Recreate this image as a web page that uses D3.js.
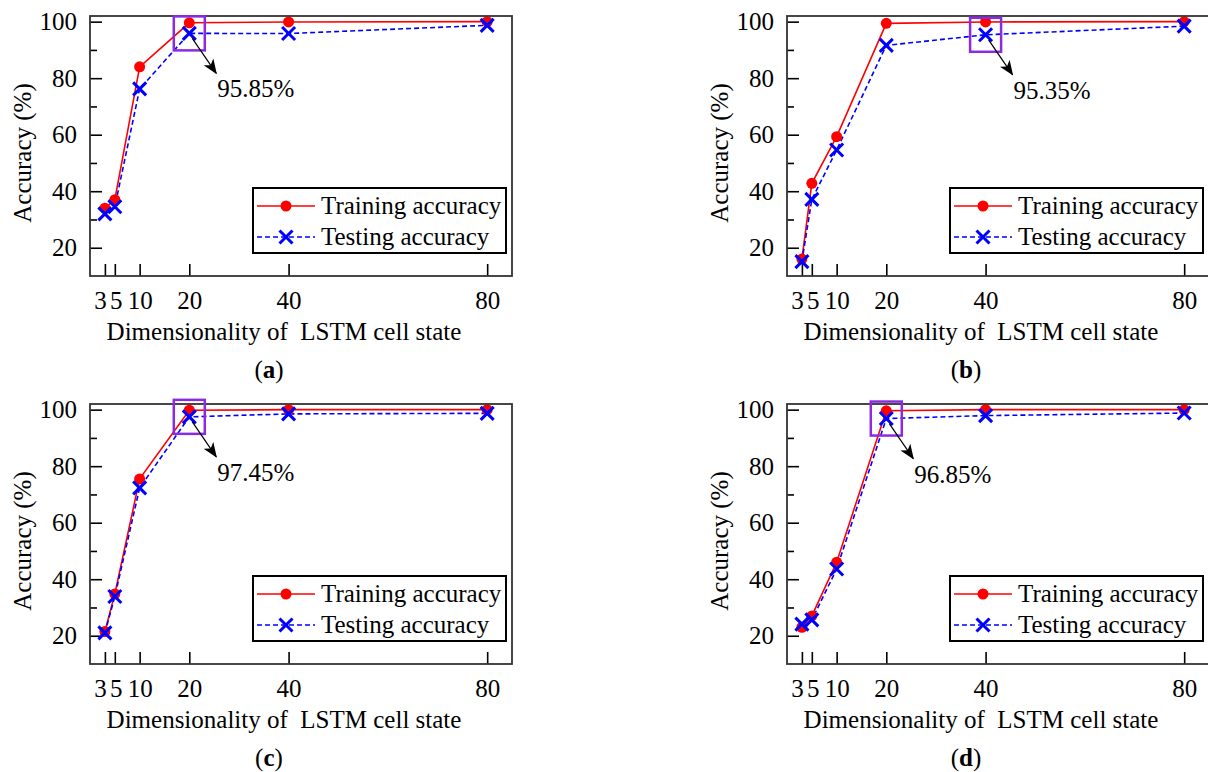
<!DOCTYPE html>
<html>
<head>
<meta charset="utf-8">
<script src="https://cdn.jsdelivr.net/npm/d3@7"></script>
<style>
  html, body { margin: 0; padding: 0; background: #fff; }
  svg { display: block; }
  svg text { font-family: "Liberation Serif", "Times New Roman", serif; fill: #000; }
</style>
</head>
<body>
<svg id="chart" width="1208" height="772"></svg>
<script>
// LSTM cell-state sizes on the x axis
const dims = [3, 5, 10, 20, 40, 80];
const xTickLabels = ["3", "5", "10", "20", "40", "80"];
const yTicksMajor = [20, 40, 60, 80, 100];
const yTicksMinor = [30, 50, 70, 90];

// Accuracy (%) for each panel
const trainA = [34, 37, 84, 99.6, 99.9, 100];
const testA  = [32, 34.5, 76.2, 95.85, 95.8, 98.7];
const trainB = [16, 42.8, 59.3, 99.4, 99.9, 100];
const testB  = [15.1, 37.1, 54.6, 91.6, 95.35, 98.4];
const trainC = [21.5, 34.8, 75.5, 99.8, 100, 100];
const testC  = [21, 33.9, 72.3, 97.45, 98.5, 98.7];
const trainD = [23, 27, 46, 99.6, 100, 100];
const testD  = [24.1, 25.6, 43.6, 96.85, 97.9, 98.8];

const captions = ["a", "b", "c", "d"];
const highlightIndex = [3, 4, 3, 3];          // which testing point is boxed
const highlightLabel = ["95.85%", "95.35%", "97.45%", "96.85%"];

const panels = [
  { train: trainA, test: testA, dx: 0,   dy: 0 },
  { train: trainB, test: testB, dx: 697, dy: 0 },
  { train: trainC, test: testC, dx: 0,   dy: 388 },
  { train: trainD, test: testD, dx: 697, dy: 388 }
];

const svg = d3.select("#chart");
const FS = 25;
const SERIF = "'Liberation Serif', 'Times New Roman', serif";
const RED = "#ff0000", BLUE = "#0000ff", PURPLE = "#8a2be2";

// arrowhead used by the annotation arrows
svg.append("defs").append("marker")
  .attr("id", "arrowhead")
  .attr("markerUnits", "userSpaceOnUse")
  .attr("viewBox", "0 0 15 12")
  .attr("refX", 14).attr("refY", 6)
  .attr("markerWidth", 15).attr("markerHeight", 12)
  .attr("orient", "auto")
  .append("path")
  .attr("d", "M0,0 L15,6 L0,12 L4,6 Z")
  .attr("fill", "#000");

// frame box in panel coordinates
const L = 90, R = 512, T = 16, B = 276;

function xMark(sel, size) {
  sel.append("path")
    .attr("d", `M${-size},${-size}L${size},${size}M${-size},${size}L${size},${-size}`)
    .attr("stroke", BLUE).attr("stroke-width", 3).attr("fill", "none");
}

function label(sel) {
  return sel.style("font-family", SERIF).attr("font-size", FS).attr("fill", "#000");
}

panels.forEach((p, i) => {
  const g = svg.append("g").attr("transform", `translate(${p.dx},${p.dy})`);
  const x = d3.scaleLinear().domain([0, 85]).range([L, R]);
  const y = d3.scaleLinear().domain([10, 102]).range([B, T]);

  // y axis: major ticks with labels, minor ticks without
  const yAx = g.append("g").attr("transform", `translate(${L},0)`)
    .call(d3.axisLeft(y).tickValues(yTicksMajor).tickSize(-12).tickPadding(13).tickFormat(d3.format("d")));
  const yMin = g.append("g").attr("transform", `translate(${L},0)`)
    .call(d3.axisLeft(y).tickValues(yTicksMinor).tickSize(-7).tickFormat(""));
  // x axis
  const xAx = g.append("g").attr("transform", `translate(0,${B})`)
    .call(d3.axisBottom(x).tickValues(dims).tickSize(-12).tickPadding(15)
      .tickFormat((d, k) => xTickLabels[k]));
  [yAx, yMin, xAx].forEach(a => {
    a.attr("font-family", null).attr("font-size", null);
    a.select(".domain").remove();
    a.selectAll(".tick line").attr("stroke", "#000").attr("stroke-width", 1.6);
    label(a.selectAll("text"));
  });
  // the two smallest sizes sit close together: nudge their labels apart
  xAx.selectAll(".tick text").attr("dx", d => d === dims[0] ? -5 : d === dims[1] ? 1 : 0);

  // lines
  const line = d3.line().x((d, k) => x(dims[k])).y(d => y(d));
  g.append("path").datum(p.train).attr("d", line)
    .attr("fill", "none").attr("stroke", RED).attr("stroke-width", 1.6);
  g.append("path").datum(p.test).attr("d", line)
    .attr("fill", "none").attr("stroke", BLUE).attr("stroke-width", 1.6)
    .attr("stroke-dasharray", "5,3");

  // markers
  g.selectAll(".dot").data(p.train).join("circle")
    .attr("cx", (d, k) => x(dims[k])).attr("cy", d => y(d))
    .attr("r", 5.5).attr("fill", RED);
  g.selectAll(".xm").data(p.test).join("g")
    .attr("transform", (d, k) => `translate(${x(dims[k])},${y(d)})`)
    .each(function () { xMark(d3.select(this), 6.5); });

  // frame
  g.append("rect").attr("x", L).attr("y", T).attr("width", R - L).attr("height", B - T)
    .attr("fill", "none").attr("stroke", "#333").attr("stroke-width", 1.8);

  // highlighted testing point with annotation
  const hi = highlightIndex[i];
  const hx = x(dims[hi]), hy = y(p.test[hi]);
  g.append("rect").attr("x", hx - 15.5).attr("y", hy - 17).attr("width", 31).attr("height", 34)
    .attr("fill", "none").attr("stroke", PURPLE).attr("stroke-width", 2.5);
  g.append("line")
    .attr("x1", hx + 3).attr("y1", hy + 5).attr("x2", hx + 27).attr("y2", hy + 40)
    .attr("stroke", "#000").attr("stroke-width", 1.2).attr("marker-end", "url(#arrowhead)");
  label(g.append("text")).attr("x", hx + 28).attr("y", hy + 64).text(highlightLabel[i]);

  // legend
  const lg = g.append("g");
  lg.append("rect").attr("x", 253).attr("y", 188).attr("width", 253).attr("height", 65)
    .attr("fill", "#fff").attr("stroke", "#000").attr("stroke-width", 2);
  lg.append("line").attr("x1", 257).attr("x2", 315).attr("y1", 206).attr("y2", 206)
    .attr("stroke", RED).attr("stroke-width", 1.6);
  lg.append("circle").attr("cx", 286).attr("cy", 206).attr("r", 5.5).attr("fill", RED);
  label(lg.append("text")).attr("x", 321).attr("y", 214).text("Training accuracy");
  lg.append("line").attr("x1", 257).attr("x2", 315).attr("y1", 237).attr("y2", 237)
    .attr("stroke", BLUE).attr("stroke-width", 1.6).attr("stroke-dasharray", "5,3");
  xMark(lg.append("g").attr("transform", "translate(286,237)"), 6.5);
  label(lg.append("text")).attr("x", 321).attr("y", 245).text("Testing accuracy");

  // axis titles
  label(g.append("text")).attr("x", 284).attr("y", 340).attr("text-anchor", "middle")
    .style("white-space", "pre")
    .text("Dimensionality of  LSTM cell state");
  label(g.append("text")).attr("transform", "translate(31,153) rotate(-90)")
    .attr("text-anchor", "middle").text("Accuracy (%)");

  // caption
  const cap = label(g.append("text")).attr("x", 269).attr("y", 378).attr("text-anchor", "middle");
  cap.append("tspan").text("(");
  cap.append("tspan").attr("font-weight", "bold").text(captions[i]);
  cap.append("tspan").text(")");
});
</script>
</body>
</html>
